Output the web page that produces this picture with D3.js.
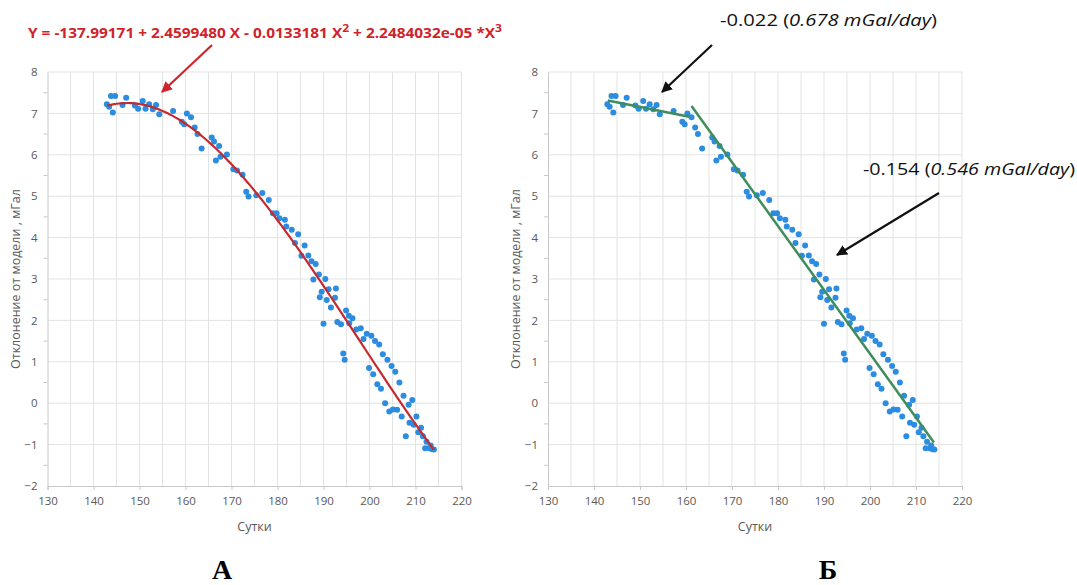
<!DOCTYPE html>
<html>
<head>
<meta charset="utf-8">
<script src="https://cdn.jsdelivr.net/npm/d3@7"></script>
<style>
  body { margin: 0; background: #fff; }
  svg { display: block; }
  text { font-family: "Open Sans", sans-serif; }
</style>
</head>
<body>
<div id="chart"></div>
<script>
// observations: day number and deviation from the model, mGal
const days = [142.9, 143.4, 143.8, 144.2, 144.7, 146.3, 147.1, 149.0, 149.7, 150.7,
  151.3, 152.1, 152.9, 153.6, 154.3, 157.3, 159.2, 159.7, 160.3, 161.2,
  162.0, 162.6, 163.5, 165.7, 166.2, 166.6, 167.3, 167.6, 169.0, 170.4,
  171.2, 172.4, 173.2, 173.7, 175.4, 176.7, 178.1, 179.0, 179.8, 180.4,
  181.6, 181.9, 183.1, 183.8, 184.5, 185.2, 185.9, 186.7, 187.4, 187.8,
  188.3, 189.0, 189.2, 189.6, 190.0, 190.4, 190.7, 191.1, 191.6, 192.5,
  192.7, 193.0, 193.8, 194.3, 194.6, 194.9, 195.5, 195.6, 196.3, 197.1,
  198.1, 198.7, 199.4, 199.9, 200.4, 200.8, 201.2, 201.7, 202.1, 202.5,
  202.9, 203.4, 203.9, 204.3, 204.8, 205.1, 205.6, 206.0, 206.5, 207.0,
  207.4, 207.9, 208.5, 208.7, 209.3, 209.6, 210.2, 210.6, 211.2, 211.6,
  212.1, 212.4, 213.0, 213.3, 213.6, 214.0];
const deviation = [7.22, 7.16, 7.42, 7.02, 7.42, 7.20, 7.38, 7.19, 7.11, 7.30,
  7.11, 7.22, 7.10, 7.20, 6.98, 7.06, 6.80, 6.74, 7.00, 6.91,
  6.66, 6.50, 6.15, 6.42, 6.32, 5.86, 6.21, 5.95, 6.01, 5.65,
  5.62, 5.52, 5.11, 4.99, 5.02, 5.08, 4.91, 4.59, 4.59, 4.47,
  4.43, 4.27, 4.19, 3.87, 4.08, 3.56, 3.81, 3.57, 3.43, 2.99,
  3.36, 3.11, 2.56, 2.69, 1.92, 3.00, 2.49, 2.75, 2.31, 2.55,
  2.77, 1.96, 1.91, 1.20, 1.05, 2.24, 2.11, 1.93, 2.05, 1.78,
  1.81, 1.55, 1.68, 0.85, 1.63, 0.70, 1.50, 0.46, 1.42, 0.35,
  1.18, 0.00, 1.05, -0.20, 0.90, -0.15, 0.76, -0.16, 0.50, -0.32,
  0.18, -0.80, -0.04, -0.47, 0.08, -0.52, -0.32, -0.70, -0.59, -0.80,
  -1.09, -0.93, -1.09, -1.02, -1.11, -1.12];

// cubic fit: c0 + c1 X + c2 X^2 + c3 X^3
const polyCoef = [-137.99171, 2.4599480, -0.0133181, 2.2484032e-05];
const polyRange = [143, 214];

// piecewise linear trends [x1, y1, x2, y2]
const trendSegments = [
  [143.0, 7.31, 160.7, 6.92],
  [161.2, 7.18, 213.9, -0.95]
];

const xTicks = [130, 140, 150, 160, 170, 180, 190, 200, 210, 220];
const yTicks = [-2, -1, 0, 1, 2, 3, 4, 5, 6, 7, 8];

const width = 1077, height = 585;
const plotW = 414, plotH = 414, plotTop = 72;

const svg = d3.select("#chart").append("svg")
  .attr("width", width).attr("height", height);

const defs = svg.append("defs");
function arrowMarker(id, color) {
  defs.append("marker")
    .attr("id", id)
    .attr("viewBox", "0 0 10 10")
    .attr("refX", 9).attr("refY", 5)
    .attr("markerWidth", 5).attr("markerHeight", 5)
    .attr("markerUnits", "strokeWidth")
    .attr("orient", "auto")
    .append("path").attr("d", "M0,0 L10,5 L0,10 z").attr("fill", color);
}
arrowMarker("arrRed", "#d0232a");
arrowMarker("arrBlack", "#111");

const points = days.map((d, i) => ({ x: d, y: deviation[i] }));

function drawPanel(left, mode) {
  const x = d3.scaleLinear().domain([130, 220]).range([left, left + plotW]);
  const y = d3.scaleLinear().domain([-2, 8]).range([plotTop + plotH, plotTop]);
  const g = svg.append("g");

  // grid
  g.append("g").selectAll("line")
    .data(d3.range(135, 221, 5))
    .join("line")
    .attr("x1", d => x(d)).attr("x2", d => x(d))
    .attr("y1", y(8)).attr("y2", y(-2))
    .attr("stroke", "#e3e3e3").attr("stroke-width", 1);
  g.append("g").selectAll("line")
    .data(yTicks.slice(1))
    .join("line")
    .attr("x1", x(130)).attr("x2", x(220))
    .attr("y1", d => y(d)).attr("y2", d => y(d))
    .attr("stroke", "#e3e3e3").attr("stroke-width", 1);

  // axes
  const xAxis = g.append("g")
    .attr("transform", `translate(0,${y(-2)})`)
    .call(d3.axisBottom(x).tickValues(xTicks).tickSize(4).tickPadding(7));
  const yAxis = g.append("g")
    .attr("transform", `translate(${x(130)},0)`)
    .call(d3.axisLeft(y).tickValues(yTicks).tickSize(0).tickPadding(10));
  [xAxis, yAxis].forEach(a => {
    a.select(".domain").attr("stroke", "#c8c8c8");
    a.selectAll(".tick line").attr("stroke", "#c8c8c8");
    a.selectAll(".tick text").attr("fill", "#595959")
      .style("font-size", "11.5px").style("font-family", "'Open Sans', sans-serif");
  });
  // minor ticks on the value axis
  g.append("g").selectAll("line")
    .data(d3.range(-1.5, 8, 1))
    .join("line")
    .attr("x1", x(130) - 4).attr("x2", x(130))
    .attr("y1", d => y(d)).attr("y2", d => y(d))
    .attr("stroke", "#c8c8c8");

  g.append("text")
    .attr("x", x(175)).attr("y", 531)
    .attr("text-anchor", "middle")
    .attr("fill", "#595959").style("font-size", "12.5px")
    .text("Сутки");
  g.append("text")
    .attr("transform", `translate(${left - 28},${y(3)}) rotate(-90)`)
    .attr("text-anchor", "middle")
    .attr("fill", "#595959").style("font-size", "12.5px")
    .text("Отклонение от модели , мГал");

  // observations
  g.append("g").selectAll("circle")
    .data(points)
    .join("circle")
    .attr("cx", d => x(d.x)).attr("cy", d => y(d.y))
    .attr("r", 3)
    .attr("fill", "#2b8ce0");

  if (mode === "poly") {
    const curve = d3.range(polyRange[0], polyRange[1] + 0.01, 0.5).map(t => ({
      x: t,
      y: polyCoef.reduce((s, c, k) => s + c * Math.pow(t, k), 0)
    }));
    g.append("path")
      .datum(curve)
      .attr("fill", "none")
      .attr("stroke", "#c42a2f")
      .attr("stroke-width", 2.2)
      .attr("d", d3.line().x(d => x(d.x)).y(d => y(d.y)).curve(d3.curveBasis));
  } else {
    g.append("g").selectAll("line")
      .data(trendSegments)
      .join("line")
      .attr("x1", d => x(d[0])).attr("y1", d => y(d[1]))
      .attr("x2", d => x(d[2])).attr("y2", d => y(d[3]))
      .attr("stroke", "#3f8d5c")
      .attr("stroke-width", 2.5);
  }
  return { x, y };
}

drawPanel(47.5, "poly");
drawPanel(548, "trend");

// fit equation over the left panel
const eq = svg.append("text")
  .attr("x", 28).attr("y", 38)
  .attr("fill", "#d0232a")
  .style("font-size", "14px").style("font-weight", "bold")
  .attr("textLength", 474).attr("lengthAdjust", "spacingAndGlyphs");
eq.append("tspan").text("Y = -137.99171 + 2.4599480 X - 0.0133181 X");
eq.append("tspan").attr("dy", -6).style("font-size", "11px").text("2");
eq.append("tspan").attr("dy", 6).text(" + 2.2484032e-05 *X");
eq.append("tspan").attr("dy", -6).style("font-size", "11px").text("3");

svg.append("line")
  .attr("x1", 212).attr("y1", 45).attr("x2", 162).attr("y2", 92)
  .attr("stroke", "#d0232a").attr("stroke-width", 2.2)
  .attr("marker-end", "url(#arrRed)");

// slope notes over the right panel
function slopeNote(xPos, yPos, slope, rate, len) {
  const t = svg.append("text")
    .attr("x", xPos).attr("y", yPos)
    .attr("fill", "#111").style("font-size", "16px")
    .attr("textLength", len).attr("lengthAdjust", "spacingAndGlyphs");
  t.append("tspan").text(slope + " (");
  t.append("tspan").style("font-style", "italic").text(rate + " mGal/day");
  t.append("tspan").text(")");
}
slopeNote(720, 26, "-0.022", "0.678", 217);
slopeNote(863, 175, "-0.154", "0.546", 212);

svg.append("line")
  .attr("x1", 712).attr("y1", 45).attr("x2", 662).attr("y2", 92)
  .attr("stroke", "#111").attr("stroke-width", 2.2)
  .attr("marker-end", "url(#arrBlack)");
svg.append("line")
  .attr("x1", 939).attr("y1", 193).attr("x2", 837).attr("y2", 255)
  .attr("stroke", "#111").attr("stroke-width", 2.2)
  .attr("marker-end", "url(#arrBlack)");

// panel letters
svg.selectAll("text.panel")
  .data([["А", 222], ["Б", 828]])
  .join("text")
  .attr("class", "panel")
  .attr("x", d => d[1]).attr("y", 579)
  .attr("text-anchor", "middle")
  .style("font-family", "'Liberation Serif', 'DejaVu Serif', serif")
  .style("font-size", "28px").style("font-weight", "bold")
  .text(d => d[0]);
</script>
</body>
</html>
